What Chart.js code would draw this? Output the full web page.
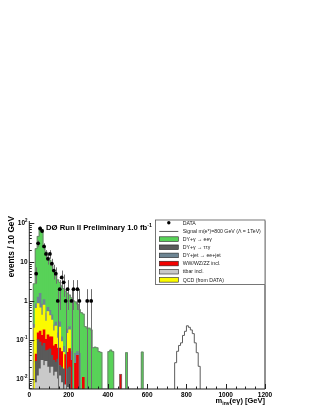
<!DOCTYPE html>
<html>
<head>
<meta charset="utf-8">
<title>m_inv(e gamma)</title>
<script src="https://cdn.jsdelivr.net/npm/chart.js@4.4.1/dist/chart.umd.min.js"></script>
<style>
  html, body { margin: 0; padding: 0; background: #fff; }
</style>
</head>
<body>
<canvas id="myChart" width="318" height="411"></canvas>
<script>
// histogram binning, GeV
const binStart = 0;
const binWidth = 10;

// events per 10 GeV bin, 0..590 GeV
const dyEeg = [
  0, 0, 2.5, 21, 44, 73, 67, 24, 17.5, 12.5,
  10.5, 7.5, 5.7, 4.2, 3.3, 2.7, 2.3, 2.0, 1.75, 1.4,
  1.2, 1.15, 1.0, 0.9, 0.78, 0.55, 0.5, 0.45, 0.22, 0.2,
  0.2, 0.18, 0.063, 0.065, 0.063, 0.05, 0.048, 0, 0, 0,
  0.05, 0.055, 0.05, 0, 0, 0, 0, 0, 0, 0.047,
  0, 0, 0, 0, 0, 0, 0, 0.049, 0, 0
];
const dyTtg = [
  0, 0, 0, 0.02, 0.09, 0.07, 0.04, 0.06, 0.025, 0.035,
  0.045, 0.02, 0.018, 0.012, 0.022, 0.01, 0.012, 0.018, 0, 0.012,
  0.02, 0, 0, 0, 0, 0, 0, 0, 0, 0,
  0, 0, 0, 0, 0, 0, 0, 0, 0, 0,
  0, 0, 0, 0, 0, 0, 0, 0, 0, 0,
  0, 0, 0, 0, 0, 0, 0, 0, 0, 0
];
const dyJet = [
  0, 0, 0.05, 0.2, 0.4, 0.9, 0.4, 0.3, 0.2, 0.15,
  0.15, 0.12, 0.07, 0.06, 0.04, 0.08, 0.03, 0.02, 0, 0.04,
  0.04, 0.02, 0, 0.02, 0.01, 0.045, 0, 0, 0, 0,
  0, 0, 0, 0, 0, 0, 0, 0, 0, 0,
  0, 0, 0, 0, 0, 0, 0, 0, 0, 0,
  0, 0, 0, 0, 0, 0, 0, 0, 0, 0
];
const diboson = [
  0, 0, 0, 0.015, 0.05, 0.08, 0.06, 0.1, 0.05, 0.08,
  0.06, 0.08, 0.04, 0.05, 0.03, 0.04, 0.03, 0, 0.035, 0.03,
  0.04, 0.03, 0, 0.025, 0.04, 0, 0, 0.011, 0, 0,
  0, 0, 0, 0, 0, 0, 0, 0, 0, 0,
  0, 0, 0, 0, 0, 0, 0.013, 0, 0, 0,
  0, 0, 0, 0, 0, 0, 0, 0, 0, 0
];
const ttbar = [
  0, 0, 0, 0.008, 0.012, 0.018, 0.03, 0.022, 0.028, 0.02,
  0.014, 0.02, 0.012, 0.015, 0.01, 0.012, 0.008, 0, 0.007, 0.006,
  0, 0, 0, 0, 0, 0, 0, 0, 0, 0,
  0, 0, 0, 0, 0, 0, 0, 0, 0, 0,
  0, 0, 0, 0, 0, 0, 0, 0, 0, 0,
  0, 0, 0, 0, 0, 0, 0, 0, 0, 0
];
const qcd = [
  0, 0, 0.2, 0.6, 0.7, 0.5, 0.3, 0.6, 0.2, 0.4,
  0.3, 0.2, 0.1, 0.15, 0.05, 0.15, 0.04, 0.03, 0, 0.1,
  0.12, 0, 0, 0, 0, 0, 0, 0, 0, 0,
  0, 0, 0, 0, 0, 0, 0, 0, 0, 0,
  0, 0, 0, 0, 0, 0, 0, 0, 0, 0,
  0, 0, 0, 0, 0, 0, 0, 0, 0, 0
];
const dataCounts = [
  0, 0, 0, 5, 30, 72, 62, 25, 16, 12,
  16, 9, 6, 5, 1, 2, 4, 3, 1, 2,
  0, 1, 2, 0, 2, 1, 0, 0, 0, 1,
  0, 1, 0, 0, 0, 0, 0, 0, 0, 0,
  0, 0, 0, 0, 0, 0, 0, 0, 0, 0,
  0, 0, 0, 0, 0, 0, 0, 0, 0, 0
];

// signal m(e*) = 800 GeV, bins from 740 GeV
const signalStart = 740;
const signal = [0.026, 0.051, 0.072, 0.084, 0.13, 0.166, 0.23, 0.21, 0.18, 0.145, 0.084, 0.047, 0.021];

const xTicks = [0, 200, 400, 600, 800, 1000, 1200];
const yTicks = [0.01, 0.1, 1, 10, 100];
const yTickLabels = ['10^{-2}', '10^{-1}', '1', '10', '10^{2}'];

const Y_MIN = 0.0055;
const Y_MAX = 112;
const FONT = '"Liberation Sans", Arial, Helvetica, sans-serif';

const centers = dyEeg.map((_, i) => binStart + (i + 0.5) * binWidth);
const asPoints = vals => vals.map((v, i) => ({ x: centers[i], y: v > 0 ? v : null }));
const total = dyEeg.map((v, i) => v + dyTtg[i] + dyJet[i] + diboson[i] + ttbar[i] + qcd[i]);

// outline of a histogram as a stepped line through the bin edges
function outline(start, vals) {
  const pts = [{ x: start, y: Y_MIN }];
  vals.forEach((v, i) => pts.push({ x: start + i * binWidth, y: v > 0 ? v : Y_MIN }));
  pts.push({ x: start + vals.length * binWidth, y: Y_MIN });
  return pts;
}

function bars(label, vals, color) {
  return {
    type: 'bar', label: label, data: asPoints(vals),
    backgroundColor: color, borderWidth: 0,
    barPercentage: 1, categoryPercentage: 1
  };
}

// text with ^{sup} and _{sub}
function richParts(str) {
  const out = [];
  const re = /([\^_])\{([^}]*)\}/g;
  let last = 0, m;
  while ((m = re.exec(str))) {
    if (m.index > last) out.push({ t: str.slice(last, m.index), k: 0 });
    out.push({ t: m[2], k: m[1] === '^' ? 1 : -1 });
    last = re.lastIndex;
  }
  if (last < str.length) out.push({ t: str.slice(last), k: 0 });
  return out;
}
function drawRich(ctx, str, x, y, size, align, bold) {
  const parts = richParts(str);
  const fontFor = k => (bold ? 'bold ' : '') + (k ? size * 0.68 : size) + 'px ' + FONT;
  let w = 0;
  parts.forEach(p => { ctx.font = fontFor(p.k); p.w = ctx.measureText(p.t).width; w += p.w; });
  let cx = align === 'right' ? x - w : align === 'center' ? x - w / 2 : x;
  ctx.textAlign = 'left';
  ctx.textBaseline = 'alphabetic';
  parts.forEach(p => {
    ctx.font = fontFor(p.k);
    const dy = p.k > 0 ? -size * 0.42 : p.k < 0 ? size * 0.25 : 0;
    ctx.fillText(p.t, cx, y + dy);
    cx += p.w;
  });
}

const hepPlugin = {
  id: 'hep',
  beforeDatasetDraw(chart, args) {
    if (args.index !== 0) return;
    // poisson error bars under the data points
    const ctx = chart.ctx, ys = chart.scales.y, area = chart.chartArea;
    const meta = chart.getDatasetMeta(0);
    ctx.save();
    ctx.strokeStyle = '#6e6e6e';
    ctx.lineWidth = 1;
    meta.data.forEach((pt, i) => {
      const n = dataCounts[i];
      if (!n) return;
      const err = Math.sqrt(n);
      const top = ys.getPixelForValue(n + err);
      const bot = n - err > ys.min ? ys.getPixelForValue(n - err) : area.bottom;
      const px = Math.round(pt.x) + 0.5;
      ctx.beginPath();
      ctx.moveTo(px, top);
      ctx.lineTo(px, bot);
      ctx.stroke();
    });
    ctx.restore();
  },
  afterDraw(chart) {
    const ctx = chart.ctx, xs = chart.scales.x, ys = chart.scales.y;
    const { left, right, top, bottom } = chart.chartArea;
    ctx.save();

    // frame
    ctx.strokeStyle = '#222';
    ctx.lineWidth = 1;
    ctx.beginPath();
    ctx.moveTo(left, top);
    ctx.lineTo(left, bottom);
    ctx.lineTo(right, bottom);
    ctx.lineTo(right, top);
    ctx.stroke();

    // ticks, inside the frame
    ctx.beginPath();
    for (let v = 0; v <= 1200; v += 50) {
      const px = Math.round(xs.getPixelForValue(v)) + 0.5;
      ctx.moveTo(px, bottom);
      ctx.lineTo(px, bottom - (v % 200 === 0 ? 5 : 2.5));
    }
    for (let d = -3; d <= 2; d++) {
      for (let k = 1; k <= 9; k++) {
        const v = k * Math.pow(10, d);
        if (v < ys.min || v > ys.max) continue;
        const py = Math.round(ys.getPixelForValue(v)) + 0.5;
        ctx.moveTo(left, py);
        ctx.lineTo(left + (k === 1 ? 5 : 2.5), py);
      }
    }
    ctx.stroke();

    ctx.fillStyle = '#000';
    // y tick labels
    yTicks.forEach((v, i) => {
      drawRich(ctx, yTickLabels[i], 27.5, ys.getPixelForValue(v) + 2.3, 6.5, 'right', true);
    });

    // axis titles
    drawRich(ctx, 'm_{inv}(eγ) [GeV]', right, 403, 7.5, 'right', true);
    ctx.save();
    ctx.translate(13.5, 216);
    ctx.rotate(-Math.PI / 2);
    drawRich(ctx, 'events / 10 GeV', 0, 0, 8.3, 'right', true);
    ctx.restore();

    // experiment label
    drawRich(ctx, 'D\u00D8 Run II Preliminary 1.0 fb^{-1}', 46, 230, 7.7, 'left', true);

    // legend
    const lx0 = 155, lx1 = 265.5, ly0 = 219.5, ly1 = 285;
    ctx.fillStyle = '#fff';
    ctx.fillRect(lx0, ly0, lx1 - lx0, ly1 - ly0);
    ctx.strokeStyle = '#555';
    ctx.lineWidth = 0.8;
    ctx.strokeRect(lx0 + 0.5, ly0 + 0.5, lx1 - lx0 - 1, ly1 - ly0 - 1);
    const order = [0, 1, 8, 4, 7, 5, 3, 6];
    order.forEach((di, row) => {
      const ds = chart.data.datasets[di];
      const ry = 222.8 + row * 8.15;
      const sx = 159.3, sw = 19;
      if (di === 0) {
        ctx.fillStyle = '#000';
        ctx.beginPath();
        ctx.arc(sx + sw / 2, ry, 1.7, 0, Math.PI * 2);
        ctx.fill();
      } else if (di === 1) {
        ctx.strokeStyle = ds.borderColor;
        ctx.lineWidth = 1;
        ctx.beginPath();
        ctx.moveTo(sx, ry + 0.5);
        ctx.lineTo(sx + sw, ry + 0.5);
        ctx.stroke();
      } else {
        ctx.fillStyle = ds.backgroundColor;
        ctx.fillRect(sx, ry - 2.3, sw, 4.6);
        ctx.strokeStyle = '#222';
        ctx.lineWidth = 0.6;
        ctx.strokeRect(sx, ry - 2.3, sw, 4.6);
      }
      ctx.fillStyle = '#222';
      ctx.font = '5.2px ' + FONT;
      ctx.textAlign = 'left';
      ctx.textBaseline = 'middle';
      ctx.fillText(ds.label, 182.7, ry + 0.3);
    });
    ctx.restore();
  }
};

const ctx = document.getElementById('myChart');

new Chart(ctx, {
  type: 'bar',
  data: {
    datasets: [
      {
        type: 'line', label: 'DATA', stack: 'data',
        data: asPoints(dataCounts), showLine: false,
        pointRadius: 1.9, pointBackgroundColor: '#000', pointBorderWidth: 0
      },
      {
        type: 'line', label: 'Signal m(e*)=800 GeV (\u039B = 1TeV)', stack: 'signal',
        data: outline(signalStart, signal), stepped: true,
        borderColor: '#5c5c5c', borderWidth: 1, pointRadius: 0, fill: false
      },
      {
        type: 'line', label: 'total', stack: 'total',
        data: outline(binStart, total), stepped: true,
        borderColor: '#707070', borderWidth: 0.8, pointRadius: 0, fill: false
      },
      bars('ttbar incl.', ttbar, '#c9c9c9'),
      bars('DY+\u03B3 \u2192 \u03C4\u03C4\u03B3', dyTtg, '#5a5a5a'),
      bars('WW/WZ/ZZ incl.', diboson, '#f20000'),
      bars('QCD (from DATA)', qcd, '#fbfb00'),
      bars('DY+jet \u2192 ee+jet', dyJet, '#6d8593'),
      bars('DY+\u03B3 \u2192 ee\u03B3', dyEeg, '#58d258')
    ]
  },
  options: {
    responsive: false,
    animation: false,
    events: [],
    layout: { padding: { top: 221, right: 53, bottom: 0, left: 0 } },
    plugins: { legend: { display: false }, tooltip: { enabled: false } },
    scales: {
      x: {
        type: 'linear', min: 0, max: 1200, offset: false, stacked: true,
        grid: { display: false, drawTicks: false },
        border: { display: false },
        afterBuildTicks: s => { s.ticks = xTicks.map(v => ({ value: v })); },
        afterFit: s => { s.height = 22; },
        ticks: {
          autoSkip: false, maxRotation: 0, padding: 2.5, color: '#000',
          font: { family: FONT, size: 6.5, weight: 'bold' },
          callback: v => String(v)
        }
      },
      y: {
        type: 'logarithmic', min: Y_MIN, max: Y_MAX, stacked: true,
        grid: { display: false, drawTicks: false },
        border: { display: false },
        afterFit: s => { s.width = 29.3; },
        ticks: { display: false }
      }
    }
  },
  plugins: [hepPlugin]
});
</script>
</body>
</html>
